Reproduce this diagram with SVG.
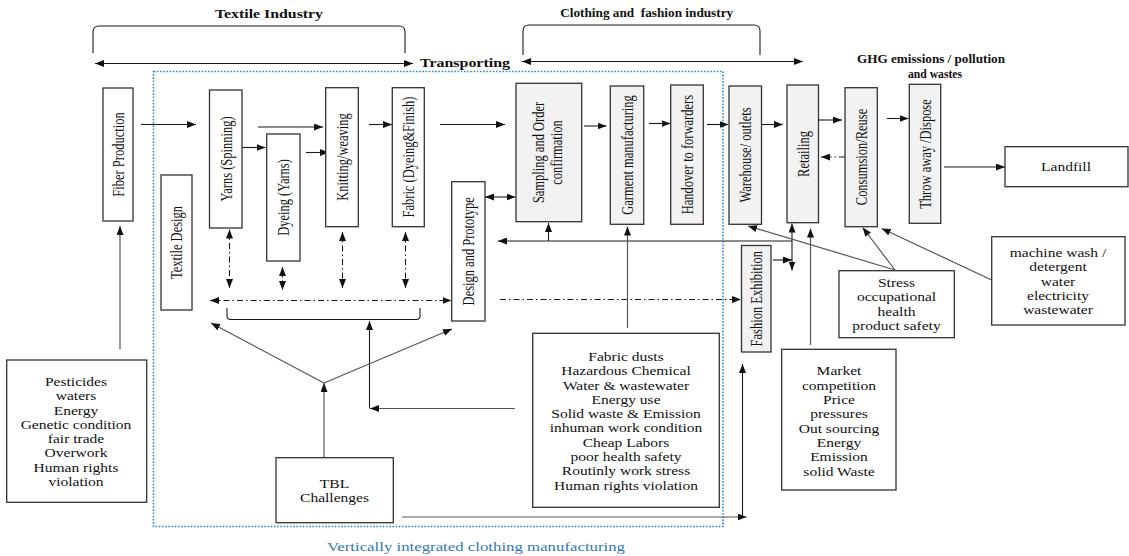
<svg xmlns="http://www.w3.org/2000/svg" width="1129" height="556" viewBox="0 0 1129 556" font-family="'Liberation Serif', 'DejaVu Serif', serif">
<style>
.box{fill:#fff;stroke:#333;stroke-width:1.3}
.gbox{fill:#f2f2f2;stroke:#333;stroke-width:1.3}
text{fill:#111;text-anchor:middle}
.lbl{font-size:12.5px}
.body{font-size:13.5px}
.ttl{font-size:13px;font-weight:bold}
.cap{font-size:13px;fill:#3478b5}
.ln{stroke:#1a1a1a;stroke-width:1.1;fill:none}
.gl{stroke:#555;stroke-width:1.2;fill:none}
.dd{stroke-dasharray:6 3 1.5 3}
.dot{fill:none;stroke:#2f86d0;stroke-width:1.6;stroke-dasharray:1.6 1.6}
</style>
<defs>
<marker id="ah" viewBox="0 0 9 7" refX="9" refY="3.5" markerWidth="9" markerHeight="7" markerUnits="userSpaceOnUse" orient="auto-start-reverse">
<path d="M0,0 L9,3.5 L0,7 z" fill="#111"/>
</marker>
</defs>

<g id="titles">
<text class="ttl" x="269" y="17.5" textLength="108" lengthAdjust="spacingAndGlyphs">Textile Industry</text>
<text class="ttl" x="646.7" y="17" textLength="173" lengthAdjust="spacingAndGlyphs" xml:space="preserve">Clothing and  fashion industry</text>
<text class="ttl" x="465" y="67" textLength="90" lengthAdjust="spacingAndGlyphs">Transporting</text>
<text class="ttl" x="931" y="63" textLength="148" lengthAdjust="spacingAndGlyphs">GHG emissions / pollution</text>
<text class="ttl" x="935" y="78" textLength="54" lengthAdjust="spacingAndGlyphs">and wastes</text>
<text class="cap" x="476" y="551" textLength="298" lengthAdjust="spacingAndGlyphs">Vertically integrated clothing manufacturing</text>
</g>

<g id="frame">
<rect class="dot" x="153.5" y="71.5" width="569.5" height="455"/>
<path class="ln" d="M93,53 L93,32 Q93,26 99,26 L399,26 Q405,26 405,32 L405,53"/>
<path class="ln" d="M523,55 L523,31 Q523,25 529,25 L754,25 Q760,25 760,31 L760,55"/>
<path class="ln" d="M227,308 L227,316 Q227,319.5 230.5,319.5 L416.5,319.5 Q420,319.5 420,316 L420,308"/>
</g>

<g id="connectors">
<line class="ln" x1="95" y1="63.5" x2="413" y2="63.5" marker-start="url(#ah)" marker-end="url(#ah)"/>
<line class="ln" x1="522" y1="61.5" x2="803" y2="61.5" marker-start="url(#ah)" marker-end="url(#ah)"/>
<line class="ln" x1="141" y1="124.5" x2="196" y2="124.5" marker-end="url(#ah)"/>
<line class="ln" x1="258" y1="127" x2="323" y2="127" marker-end="url(#ah)"/>
<line class="ln" x1="242" y1="147.5" x2="265.5" y2="147.5" marker-end="url(#ah)"/>
<line class="ln" x1="306" y1="152.5" x2="329" y2="152.5" marker-end="url(#ah)"/>
<line class="ln" x1="369" y1="124.5" x2="392" y2="124.5" marker-end="url(#ah)"/>
<line class="ln" x1="440" y1="124.5" x2="505" y2="124.5" marker-end="url(#ah)"/>
<line class="ln" x1="485" y1="197" x2="515.5" y2="197" marker-start="url(#ah)" marker-end="url(#ah)"/>
<line class="ln" x1="584" y1="126" x2="606.5" y2="126" marker-end="url(#ah)"/>
<line class="ln" x1="649" y1="123.5" x2="670.5" y2="123.5" marker-end="url(#ah)"/>
<line class="ln" x1="707" y1="124.5" x2="728.5" y2="124.5" marker-end="url(#ah)"/>
<line class="ln" x1="762" y1="124.5" x2="783" y2="124.5" marker-end="url(#ah)"/>
<line class="ln" x1="819" y1="120" x2="842" y2="120" marker-end="url(#ah)"/>
<line class="ln dd" x1="845" y1="157" x2="821" y2="157" marker-end="url(#ah)"/>
<line class="ln" x1="887" y1="118.5" x2="908.5" y2="118.5" marker-end="url(#ah)"/>
<line class="ln" x1="944" y1="167" x2="1005" y2="167" marker-end="url(#ah)"/>
<line class="gl" x1="120" y1="349" x2="120" y2="226" marker-end="url(#ah)"/>
<line class="ln dd" x1="229.5" y1="229.5" x2="229.5" y2="288" marker-start="url(#ah)" marker-end="url(#ah)"/>
<line class="ln dd" x1="282.5" y1="267" x2="282.5" y2="290" marker-start="url(#ah)" marker-end="url(#ah)"/>
<line class="ln dd" x1="342.5" y1="232" x2="342.5" y2="288" marker-start="url(#ah)" marker-end="url(#ah)"/>
<line class="ln dd" x1="405.5" y1="232" x2="405.5" y2="288" marker-start="url(#ah)" marker-end="url(#ah)"/>
<line class="ln dd" x1="210" y1="300.5" x2="451.5" y2="300.5" marker-start="url(#ah)" marker-end="url(#ah)"/>
<line class="ln dd" x1="500" y1="299.5" x2="741" y2="299.5" marker-end="url(#ah)"/>
<line class="gl" x1="515" y1="408.5" x2="370" y2="408.5" marker-end="url(#ah)"/>
<line class="ln" x1="369.5" y1="408.5" x2="369.5" y2="321" marker-end="url(#ah)"/>
<line class="gl" x1="324" y1="458" x2="324" y2="383" marker-end="url(#ah)"/>
<line class="gl" x1="324" y1="383" x2="211" y2="323" marker-end="url(#ah)"/>
<line class="gl" x1="324" y1="383" x2="452" y2="329" marker-end="url(#ah)"/>
<line class="gl" x1="402" y1="517" x2="746.5" y2="517" marker-end="url(#ah)"/>
<line class="ln" x1="742.5" y1="517" x2="742.5" y2="364" marker-end="url(#ah)"/>
<line class="ln" x1="792" y1="241" x2="498" y2="241" marker-end="url(#ah)"/>
<line class="ln" x1="548.5" y1="241" x2="548.5" y2="223" marker-end="url(#ah)"/>
<line class="gl" x1="627.5" y1="328" x2="627.5" y2="226.5" marker-end="url(#ah)"/>
<line class="ln" x1="792" y1="270.5" x2="792" y2="223.5" marker-start="url(#ah)" marker-end="url(#ah)"/>
<line class="ln" x1="773" y1="260" x2="792" y2="260" marker-end="url(#ah)"/>
<line class="gl" x1="810.5" y1="345" x2="810.5" y2="228.5" marker-end="url(#ah)"/>
<line class="gl" x1="895" y1="270" x2="748" y2="226" marker-end="url(#ah)"/>
<line class="gl" x1="895" y1="270" x2="862.7" y2="227.5" marker-end="url(#ah)"/>
<line class="gl" x1="991.7" y1="280" x2="881.7" y2="228.5" marker-end="url(#ah)"/>
</g>

<g id="fiber"><rect class="box" x="103" y="88" width="30" height="133"/>
<text class="lbl" transform="translate(118,154.5) rotate(-90) scale(1,1.35)" dy="0.35em">Fiber Production</text></g>
<g id="textile-design"><rect class="box" x="161" y="175" width="31" height="135"/>
<text class="lbl" transform="translate(176.5,242.5) rotate(-90) scale(1,1.35)" dy="0.35em">Textile Design</text></g>
<g id="yarns"><rect class="box" x="209.5" y="90" width="32.5" height="138"/>
<text class="lbl" transform="translate(225.7,159) rotate(-90) scale(1,1.35)" dy="0.35em">Yarns (Spinning)</text></g>
<g id="dyeing"><rect class="box" x="266.7" y="134" width="33.3" height="127"/>
<text class="lbl" transform="translate(283.3,197.5) rotate(-90) scale(1,1.35)" dy="0.35em">Dyeing (Yarns)</text></g>
<g id="knitting"><rect class="box" x="325.7" y="87.7" width="32.6" height="139"/>
<text class="lbl" transform="translate(342,157) rotate(-90) scale(1,1.35)" dy="0.35em">Knitting/weaving</text></g>
<g id="fabric"><rect class="box" x="392.3" y="87.7" width="32" height="139"/>
<text class="lbl" transform="translate(408.3,157) rotate(-90) scale(1,1.35)" dy="0.35em">Fabric (Dyeing&amp;Finish)</text></g>
<g id="design"><rect class="box" x="451.7" y="181.7" width="33.3" height="139.3"/>
<text class="lbl" transform="translate(468.3,251.3) rotate(-90) scale(1,1.35)" dy="0.35em">Design and Prototype</text></g>
<g id="sampling"><rect class="gbox" x="516" y="83.3" width="65.7" height="138.4"/>
<text class="lbl" transform="translate(548.8,152.5) rotate(-90) scale(1,1.35)"><tspan x="0" y="-3.5">Sampling and Order</tspan><tspan x="0" y="9.5">confirmation</tspan></text></g>
<g id="garment"><rect class="gbox" x="610.3" y="86" width="33.4" height="138.3"/>
<text class="lbl" transform="translate(627,155) rotate(-90) scale(1,1.35)" dy="0.35em">Garment manufacturing</text></g>
<g id="handover"><rect class="gbox" x="670.7" y="85" width="32.6" height="139.3"/>
<text class="lbl" transform="translate(687,154.6) rotate(-90) scale(1,1.35)" dy="0.35em">Handover to forwarders</text></g>
<g id="warehouse"><rect class="gbox" x="729" y="86" width="32.5" height="138.3"/>
<text class="lbl" transform="translate(745.2,155) rotate(-90) scale(1,1.35)" dy="0.35em">Warehouse/ outlets</text></g>
<g id="retailing"><rect class="gbox" x="787" y="85" width="31.5" height="137.7"/>
<text class="lbl" transform="translate(802.7,154) rotate(-90) scale(1,1.35)" dy="0.35em">Retailing</text></g>
<g id="consumsion"><rect class="gbox" x="845" y="87.7" width="32.3" height="139"/>
<text class="lbl" transform="translate(861,157) rotate(-90) scale(1,1.35)" dy="0.35em">Consumsion/Reuse</text></g>
<g id="throw"><rect class="gbox" x="909.3" y="84.3" width="31.4" height="139"/>
<text class="lbl" transform="translate(925,154) rotate(-90) scale(1,1.35)" dy="0.35em">Throw away /Dispose</text></g>
<g id="fashion"><rect class="gbox" x="741.5" y="245.5" width="29.5" height="106.5"/>
<text class="lbl" transform="translate(756.2,298.7) rotate(-90) scale(1,1.35)" dy="0.35em">Fashion Exhibition</text></g>
<g id="landfill"><rect class="box" x="1005" y="146.7" width="123" height="40"/>
<text class="body" transform="translate(1066,0) scale(1.15,1)" x="0" y="171">Landfill</text></g>

<g id="pesticides"><rect class="box" x="6.7" y="360" width="140" height="142.3"/>
<text class="body" transform="translate(76,0) scale(1.15,1)">
<tspan x="0" y="386">Pesticides</tspan><tspan x="0" y="400.3">waters</tspan><tspan x="0" y="414.6">Energy</tspan><tspan x="0" y="428.9">Genetic condition</tspan><tspan x="0" y="443.2">fair trade</tspan><tspan x="0" y="457.5">Overwork</tspan><tspan x="0" y="471.8">Human rights</tspan><tspan x="0" y="486.1">violation</tspan>
</text></g>

<g id="tbl"><rect class="box" x="276" y="457.7" width="117.3" height="65"/>
<text class="body" transform="translate(334.5,0) scale(1.15,1)"><tspan x="0" y="488">TBL</tspan><tspan x="0" y="502">Challenges</tspan></text></g>

<g id="fabric-dusts"><rect class="box" x="532.7" y="333.3" width="186.6" height="174"/>
<text class="body" transform="translate(626,0) scale(1.15,1)">
<tspan x="0" y="361">Fabric dusts</tspan><tspan x="0" y="375.3">Hazardous Chemical</tspan><tspan x="0" y="389.6">Water &amp; wastewater</tspan><tspan x="0" y="403.9">Energy use</tspan><tspan x="0" y="418.2">Solid waste &amp; Emission</tspan><tspan x="0" y="432.5">inhuman work condition</tspan><tspan x="0" y="446.8">Cheap Labors</tspan><tspan x="0" y="461.1">poor health safety</tspan><tspan x="0" y="475.4">Routinly work stress</tspan><tspan x="0" y="489.7">Human rights violation</tspan>
</text></g>

<g id="stress"><rect class="box" x="839" y="270.7" width="115.3" height="67"/>
<text class="body" transform="translate(896.5,0) scale(1.15,1)">
<tspan x="0" y="287">Stress</tspan><tspan x="0" y="301.3">occupational</tspan><tspan x="0" y="315.6">health</tspan><tspan x="0" y="329.9">product safety</tspan>
</text></g>

<g id="machine-wash"><rect class="box" x="991.7" y="236.7" width="133.3" height="88.3"/>
<text class="body" transform="translate(1058,0) scale(1.15,1)">
<tspan x="0" y="257">machine wash /</tspan><tspan x="0" y="271.3">detergent</tspan><tspan x="0" y="285.6">water</tspan><tspan x="0" y="299.9">electricity</tspan><tspan x="0" y="314.2">wastewater</tspan>
</text></g>

<g id="market"><rect class="box" x="781.7" y="349.3" width="114.3" height="140.7"/>
<text class="body" transform="translate(839,0) scale(1.15,1)">
<tspan x="0" y="375.5">Market</tspan><tspan x="0" y="389.8">competition</tspan><tspan x="0" y="404.1">Price</tspan><tspan x="0" y="418.4">pressures</tspan><tspan x="0" y="432.7">Out sourcing</tspan><tspan x="0" y="447">Energy</tspan><tspan x="0" y="461.3">Emission</tspan><tspan x="0" y="475.6">solid Waste</tspan>
</text></g>
</svg>
